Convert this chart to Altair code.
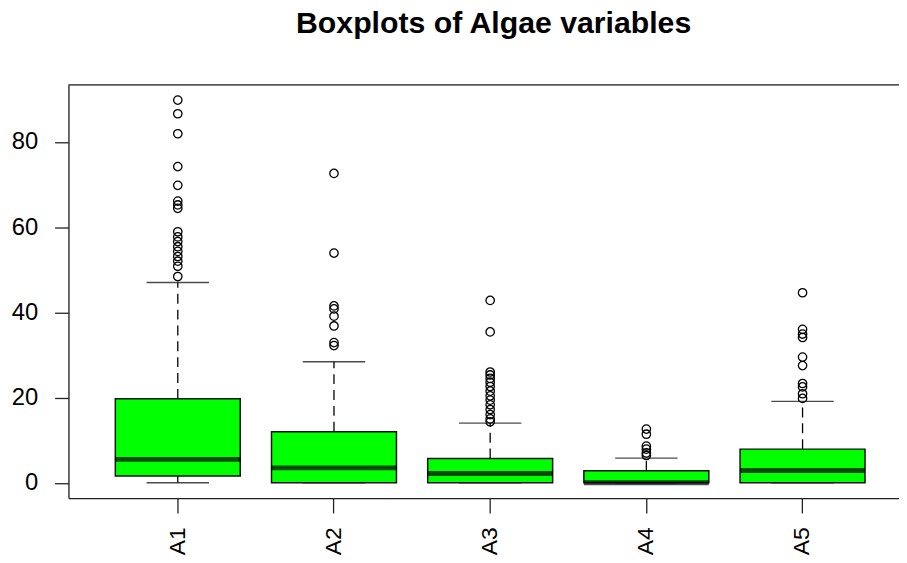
import altair as alt
import pandas as pd

# ---- data ----
categories = ["A1", "A2", "A3", "A4", "A5"]
lower_whisker = [0.0, 0.0, 0.0, 0.0, 0.0]
q1 = [1.6, 0.0, 0.0, 0.0, 0.0]
median = [5.5, 3.5, 2.2, 0.0, 2.9]
q3 = [19.7, 12.0, 5.7, 2.8, 7.9]
upper_whisker = [47.0, 28.4, 14.0, 5.8, 19.1]

outliers_A1 = [89.8, 86.6, 81.9, 74.2, 69.8, 66.1, 65.2, 64.4, 58.9, 57.7, 56.6,
               55.4, 54.3, 53.1, 52.0, 50.8, 48.4]
outliers_A2 = [72.6, 53.9, 41.5, 40.8, 39.1, 36.8, 32.9, 32.2]
outliers_A3 = [42.8, 35.4, 26.0, 25.3, 24.5, 23.6, 22.6, 21.5, 20.4, 19.4, 18.3,
               17.2, 16.0, 15.0, 14.3]
outliers_A4 = [12.6, 11.4, 8.6, 7.9, 7.0, 6.4]
outliers_A5 = [44.6, 36.0, 34.9, 34.1, 29.5, 27.5, 23.3, 22.5, 20.9, 19.8]

stats = pd.DataFrame({
    "cat": categories,
    "lo": lower_whisker,
    "q1": q1,
    "med": median,
    "q3": q3,
    "hi": upper_whisker,
})

out_lists = [outliers_A1, outliers_A2, outliers_A3, outliers_A4, outliers_A5]
outliers = pd.DataFrame(
    [{"cat": c, "value": v} for c, vals in zip(categories, out_lists) for v in vals]
)

PLOT_W = 838
PLOT_H = 417
FONT = "Liberation Sans"

x_enc = alt.X(
    "cat:N",
    sort=categories,
    scale=alt.Scale(range=[0, 851], paddingInner=0.2, paddingOuter=0.3),
    axis=alt.Axis(
        title=None,
        labelAngle=270,
        tickSize=15,
        labelPadding=14,
        labelFontSize=23,
        labelFont=FONT,
        labelColor="black",
        tickColor="#222222",
        domainColor="#222222",
        domainWidth=1.3,
        tickWidth=1.3,
    ),
)

y_scale = alt.Scale(domain=[-3.59, 93.39], nice=False, zero=False)
y_axis = alt.Axis(
    title=None,
    values=[0, 20, 40, 60, 80],
    tickSize=14,
    labelPadding=17,
    labelFontSize=24,
    labelFont=FONT,
    labelColor="black",
    tickColor="#222222",
    domainColor="#222222",
    domainWidth=1.3,
    tickWidth=1.3,
    grid=False,
)

base = alt.Chart(stats)

whisk_up = base.mark_rule(color="black", strokeWidth=1.3, strokeDash=[10, 6]).encode(
    x=x_enc, y=alt.Y("q3:Q", scale=y_scale, axis=y_axis), y2="hi:Q"
)
whisk_lo = base.mark_rule(color="black", strokeWidth=1.3, strokeDash=[10, 6]).encode(
    x=x_enc, y=alt.Y("lo:Q", scale=y_scale, axis=y_axis), y2="q1:Q"
)
cap_hi = base.mark_tick(color="black", size=63, thickness=1.4).encode(
    x=x_enc, y=alt.Y("hi:Q", scale=y_scale, axis=y_axis)
)
cap_lo = base.mark_tick(color="black", size=63, thickness=1.4).encode(
    x=x_enc, y=alt.Y("lo:Q", scale=y_scale, axis=y_axis)
)
box = base.mark_bar(color="#00FF00", stroke="#111111", strokeWidth=1.5).encode(
    x=x_enc, y=alt.Y("q1:Q", scale=y_scale, axis=y_axis), y2="q3:Q"
)
med = base.mark_tick(color="black", size=126, thickness=5).encode(
    x=x_enc, y=alt.Y("med:Q", scale=y_scale, axis=y_axis)
)
pts = alt.Chart(outliers).mark_point(
    shape="circle", size=72, filled=False, color="black", strokeWidth=1.3, opacity=1
).encode(x=x_enc, y=alt.Y("value:Q", scale=y_scale, axis=y_axis))

top_frame = alt.Chart(alt.Data(values=[{"a": 1}])).mark_rule(
    color="#222222", strokeWidth=1.3
).encode(x=alt.value(0), x2=alt.value(PLOT_W + 20), y=alt.value(0))

chart = (
    alt.layer(whisk_up, whisk_lo, cap_hi, cap_lo, box, med, pts, top_frame)
    .properties(
        width=PLOT_W,
        height=PLOT_H,
        padding={"left": 61, "top": 75, "right": 0, "bottom": 63},
        autosize=alt.AutoSizeParams(type="none"),
        title=alt.TitleParams(
            "Boxplots of Algae variables",
            font=FONT,
            fontSize=30.5,
            fontWeight="bold",
            color="black",
            anchor="middle",
            frame="group",
            dx=10,
            offset=21,
            baseline="alphabetic",
        ),
    )
    .configure_view(stroke=None)
    .configure(background="white")
)

chart.save("out.html", embed_options={"renderer": "svg", "actions": False})
